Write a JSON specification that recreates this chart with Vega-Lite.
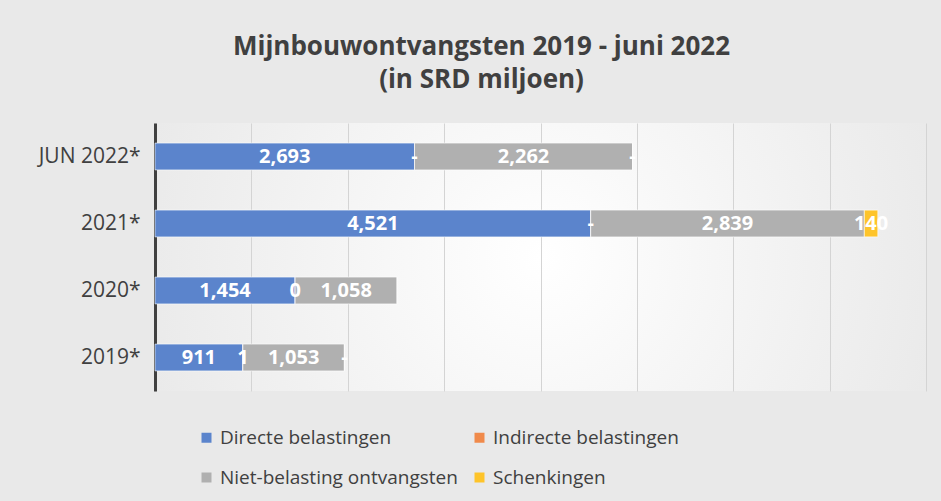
{
  "$schema": "https://vega.github.io/schema/vega-lite/v6.json",
  "width": 771,
  "height": 268,
  "autosize": {"type": "none"},
  "padding": {"left": 155, "top": 123, "right": 15, "bottom": 110},
  "background": "#e9e9e9",
  "title": {
    "text": ["Mijnbouwontvangsten 2019 - juni 2022", "(in SRD miljoen)"],
    "fontSize": 26,
    "font": "Open Sans",
    "fontWeight": "bold",
    "color": "#404040",
    "anchor": "middle",
    "dx": -59,
    "offset": 30,
    "lineHeight": 33
  },
  "config": {
    "view": {
      "stroke": null,
      "fill": {
        "gradient": "radial",
        "x1": 0.5, "y1": 0.5, "r1": 0,
        "x2": 0.5, "y2": 0.5, "r2": 0.55,
        "stops": [
          {"offset": 0, "color": "#ffffff"},
          {"offset": 1, "color": "#e9e9e9"}
        ]
      }
    },
    "legend": {
      "orient": "none",
      "legendX": 42,
      "legendY": 305,
      "direction": "horizontal",
      "columns": 2,
      "symbolType": "square",
      "symbolSize": 100,
      "symbolStrokeWidth": 0,
      "labelFontSize": 19,
      "labelFont": "Open Sans",
      "labelColor": "#404040",
      "rowPadding": 20,
      "columnPadding": 12,
      "labelLimit": 400
    }
  },
  "data": {
    "values": [
      {"year": "JUN 2022*", "series": "Directe belastingen", "value": 2693, "label": "2,693"},
      {"year": "JUN 2022*", "series": "Indirecte belastingen", "value": 0, "label": "-"},
      {"year": "JUN 2022*", "series": "Niet-belasting ontvangsten", "value": 2262, "label": "2,262"},
      {"year": "JUN 2022*", "series": "Schenkingen", "value": 0, "label": "-"},
      {"year": "2021*", "series": "Directe belastingen", "value": 4521, "label": "4,521"},
      {"year": "2021*", "series": "Indirecte belastingen", "value": 0, "label": "-"},
      {"year": "2021*", "series": "Niet-belasting ontvangsten", "value": 2839, "label": "2,839"},
      {"year": "2021*", "series": "Schenkingen", "value": 140, "label": "140"},
      {"year": "2020*", "series": "Directe belastingen", "value": 1454, "label": "1,454"},
      {"year": "2020*", "series": "Indirecte belastingen", "value": 0, "label": "0"},
      {"year": "2020*", "series": "Niet-belasting ontvangsten", "value": 1058, "label": "1,058"},
      {"year": "2020*", "series": "Schenkingen", "value": 0, "label": ""},
      {"year": "2019*", "series": "Directe belastingen", "value": 911, "label": "911"},
      {"year": "2019*", "series": "Indirecte belastingen", "value": 1, "label": "1"},
      {"year": "2019*", "series": "Niet-belasting ontvangsten", "value": 1053, "label": "1,053"},
      {"year": "2019*", "series": "Schenkingen", "value": 0, "label": "-"}
    ]
  },
  "transform": [
    {"stack": "value", "groupby": ["year"], "sort": [{"field": "series", "order": "ascending"}], "as": ["v0", "v1"]}
  ],
  "encoding": {
    "y": {
      "field": "year",
      "type": "nominal",
      "sort": ["JUN 2022*", "2021*", "2020*", "2019*"],
      "scale": {"paddingInner": 0.6, "paddingOuter": 0.3},
      "axis": {
        "title": null,
        "domainColor": "#404040",
        "domainWidth": 3,
        "ticks": false,
        "labelFontSize": 21,
        "labelFont": "Open Sans",
        "labelColor": "#404040",
        "labelPadding": 15,
        "grid": false
      }
    }
  },
  "layer": [
    {
      "mark": {"type": "bar", "stroke": "#ffffff", "strokeWidth": 1, "strokeOpacity": 0.6},
      "encoding": {
        "x": {
          "field": "v0",
          "type": "quantitative",
          "scale": {"domain": [0, 8000], "nice": false},
          "axis": {
            "title": null,
            "labels": false,
            "ticks": false,
            "domain": false,
            "grid": true,
            "gridColor": "#d4d4d4",
            "values": [0, 1000, 2000, 3000, 4000, 5000, 6000, 7000, 8000]
          }
        },
        "x2": {"field": "v1"},
        "color": {
          "field": "series",
          "type": "nominal",
          "title": null,
          "scale": {
            "domain": ["Directe belastingen", "Indirecte belastingen", "Niet-belasting ontvangsten", "Schenkingen"],
            "range": ["#5b84cc", "#f08a4b", "#b0b0b0", "#fec42a"]
          }
        }
      }
    },
    {
      "transform": [
        {"fold": ["v0", "v1"], "as": ["edge", "pos"]}
      ],
      "mark": {"type": "text", "color": "#ffffff", "font": "Open Sans", "fontWeight": "bold", "fontSize": 20},
      "encoding": {
        "x": {"field": "pos", "aggregate": "mean", "type": "quantitative"},
        "detail": {"field": "series"},
        "text": {"field": "label", "type": "nominal"}
      }
    }
  ]
}
